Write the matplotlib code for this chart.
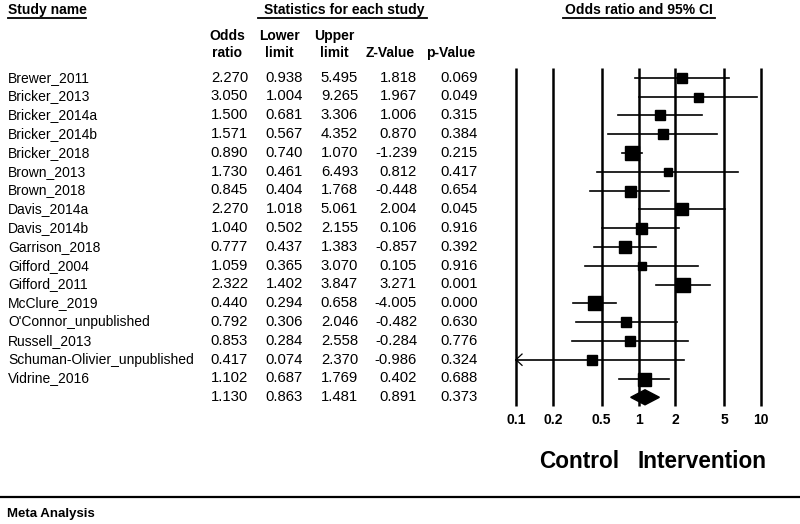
import matplotlib
matplotlib.use("Agg")
import matplotlib.pyplot as plt
import numpy as np

plt.rcParams["font.family"] = ["Liberation Sans", "DejaVu Sans"]

# ---------------------------------------------------------------------------
# Data
# ---------------------------------------------------------------------------
studies = [
    "Brewer_2011", "Bricker_2013", "Bricker_2014a", "Bricker_2014b",
    "Bricker_2018", "Brown_2013", "Brown_2018", "Davis_2014a", "Davis_2014b",
    "Garrison_2018", "Gifford_2004", "Gifford_2011", "McClure_2019",
    "O'Connor_unpublished", "Russell_2013", "Schuman-Olivier_unpublished",
    "Vidrine_2016",
]
odds  = [2.270, 3.050, 1.500, 1.571, 0.890, 1.730, 0.845, 2.270, 1.040,
         0.777, 1.059, 2.322, 0.440, 0.792, 0.853, 0.417, 1.102]
lower = [0.938, 1.004, 0.681, 0.567, 0.740, 0.461, 0.404, 1.018, 0.502,
         0.437, 0.365, 1.402, 0.294, 0.306, 0.284, 0.074, 0.687]
upper = [5.495, 9.265, 3.306, 4.352, 1.070, 6.493, 1.768, 5.061, 2.155,
         1.383, 3.070, 3.847, 0.658, 2.046, 2.558, 2.370, 1.769]
zval  = [1.818, 1.967, 1.006, 0.870, -1.239, 0.812, -0.448, 2.004, 0.106,
         -0.857, 0.105, 3.271, -4.005, -0.482, -0.284, -0.986, 0.402]
pval  = [0.069, 0.049, 0.315, 0.384, 0.215, 0.417, 0.654, 0.045, 0.916,
         0.392, 0.916, 0.001, 0.000, 0.630, 0.776, 0.324, 0.688]
# relative study weight (box size)
weight = [10.0, 9.0, 10.0, 9.3, 14.7, 8.7, 11.0, 11.7, 11.0,
          12.0, 8.3, 13.3, 13.7, 9.3, 9.3, 9.3, 13.0]

summary = dict(odds=1.130, lower=0.863, upper=1.481, z=0.891, p=0.373)

ticks = [0.1, 0.2, 0.5, 1, 2, 5, 10]
tick_labels = ["0.1", "0.2", "0.5", "1", "2", "5", "10"]

# ---------------------------------------------------------------------------
# Layout (pixel coordinates of an 800x524 canvas)
# ---------------------------------------------------------------------------
W, H = 800, 524
ROW0, DY = 77.7, 18.8


def row_y(i):
    return ROW0 + DY * i


fig = plt.figure(figsize=(W / 100, H / 100), dpi=100)

# background axes in pixel units for the table text
bg = fig.add_axes([0, 0, 1, 1])
bg.set_xlim(0, W)
bg.set_ylim(H, 0)
bg.axis("off")

fs = 10
fs_num = 10.7
col_right = [248, 303, 358, 417, 478]
col_center = [227, 279, 334, 390, 451]

# headers
bg.text(8, 10, "Study name", fontsize=fs, fontweight="bold", va="center")
bg.plot([8, 86], [18, 18], color="black", lw=1.3)
bg.text(344, 10, "Statistics for each study", fontsize=fs, fontweight="bold",
        ha="center", va="center")
bg.plot([258, 427], [18, 18], color="black", lw=1.3)
bg.text(639, 10, "Odds ratio and 95% CI", fontsize=fs, fontweight="bold",
        ha="center", va="center")
bg.plot([563, 715], [18, 18], color="black", lw=1.3)

hdr1 = ["Odds", "Lower", "Upper", "", ""]
hdr2 = ["ratio", "limit", "limit", "Z-Value", "p-Value"]
for x, a, b in zip(col_center, hdr1, hdr2):
    bg.text(x, 36, a, fontsize=fs, fontweight="bold", ha="center", va="center")
    bg.text(x, 53, b, fontsize=fs, fontweight="bold", ha="center", va="center")

# study rows
for i, name in enumerate(studies):
    y = row_y(i)
    bg.text(8, y, name, fontsize=fs, va="center")
    vals = [odds[i], lower[i], upper[i], zval[i], pval[i]]
    for x, v in zip(col_right, vals):
        bg.text(x, y, f"{v:.3f}", fontsize=fs_num, ha="right", va="center")

ys = row_y(len(studies))
for x, v in zip(col_right, [summary["odds"], summary["lower"], summary["upper"],
                            summary["z"], summary["p"]]):
    bg.text(x, ys, f"{v:.3f}", fontsize=fs_num, ha="right", va="center")

# bottom labels
bg.text(579, 461, "Control", fontsize=16.3, fontweight="bold", ha="center",
        va="center")
bg.text(702, 461, "Intervention", fontsize=16.3, fontweight="bold",
        ha="center", va="center")
bg.plot([0, W], [497, 497], color="black", lw=1.6)
bg.text(7, 514, "Meta Analysis", fontsize=9.5, fontweight="bold", va="center")

# ---------------------------------------------------------------------------
# Forest plot axes: 0.1 at x=516 px, 10 at x=761 px; rows share pixel grid
# ---------------------------------------------------------------------------
x0, x1 = 516, 761
ax = fig.add_axes([x0 / W, 0, (x1 - x0) / W, 1])
ax.set_xscale("log")
ax.set_xlim(0.1, 10)
r_top = (0 - ROW0) / DY
r_bot = (H - ROW0) / DY
ax.set_ylim(r_bot, r_top)
ax.axis("off")

ax.vlines(ticks, -0.5, 17.45, color="black", lw=1.8, zorder=1, clip_on=False)
for t, lab in zip(ticks, tick_labels):
    ax.text(t, (420 - ROW0) / DY, lab, fontsize=10, fontweight="bold",
            ha="center", va="center")

for i in range(len(studies)):
    lo = max(lower[i], 0.1)
    hi = min(upper[i], 10)
    ax.plot([lo, hi], [i, i], color="black", lw=1.2, zorder=2, clip_on=False)
    if lower[i] < 0.1:
        ax.plot([0.1 * 1.12, 0.1, 0.1 * 1.12], [i - 0.3, i, i + 0.3],
                color="black", lw=0.9, zorder=2, clip_on=False)
    ax.plot(odds[i], i, marker="s", ms=weight[i] * 0.72, color="black",
            mec="black", zorder=3)

n = len(studies)
ax.fill([summary["lower"], summary["odds"], summary["upper"], summary["odds"]],
        [n, n - 0.4, n, n + 0.4], color="black", zorder=3)

fig.savefig("out.png", dpi=100)
